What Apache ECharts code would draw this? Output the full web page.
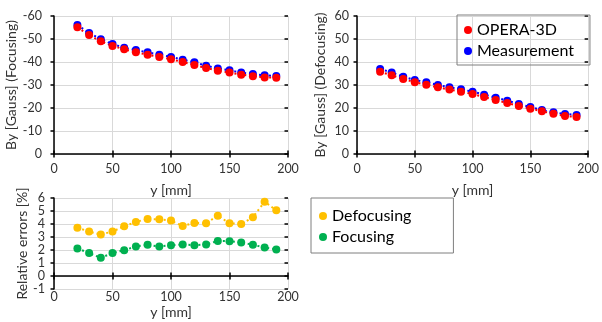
<!DOCTYPE html>
<html>
<head>
<meta charset="utf-8">
<script src="https://cdn.jsdelivr.net/npm/echarts@6/dist/echarts.min.js"></script>
<style>
html,body{margin:0;padding:0;background:#fff;}
#c{width:602px;height:322px;}
</style>
</head>
<body>
<div id="c"></div>
<script>
const yPos = [20,30,40,50,60,70,80,90,100,110,120,130,140,150,160,170,180,190];
const focMeasurement = [-56.1,-52.6,-49.9,-47.8,-46.2,-45.2,-44.2,-43.2,-42.2,-41.0,-39.9,-38.4,-37.2,-36.4,-35.4,-34.8,-34.2,-33.9];
const focOpera = [-55.1,-51.7,-49.0,-47.0,-45.5,-44.2,-43.2,-42.2,-41.2,-40.0,-38.7,-37.4,-36.2,-35.4,-34.5,-33.8,-33.3,-33.2];
const defMeasurement = [37.0,35.4,33.6,32.2,31.2,30.0,29.0,28.1,27.1,25.8,24.5,23.2,21.7,20.4,19.1,18.1,17.4,17.0];
const defOpera = [35.8,34.2,32.6,31.2,30.1,29.0,28.0,27.1,26.1,24.8,23.5,22.2,20.9,19.7,18.6,17.5,16.5,16.1];
const errDefocusing = [3.72,3.42,3.19,3.42,3.83,4.16,4.39,4.36,4.26,3.85,4.08,4.06,4.64,4.06,4.00,4.52,5.71,5.05];
const errFocusing = [2.12,1.76,1.40,1.76,1.99,2.27,2.40,2.27,2.37,2.42,2.37,2.42,2.70,2.68,2.58,2.40,2.19,2.04];

const FONT = 'Lato';
const TXT = '#333';
const GRID = '#d9d9d9';
const TICKFS = 12.5;
const NAMEFS = 14;
const pairs = a => yPos.map((x,i)=>[x,a[i]]);

function xMain(grid, extra) {
  return Object.assign({
    type:'value', gridIndex:grid, min:0, max:200, interval:50, position:'bottom',
    axisLine:{show:true, onZero:false, lineStyle:{color:'#000', width:1.5}},
    axisTick:{show:true, length:3.5, lineStyle:{color:'#000', width:1.5}},
    axisLabel:{color:TXT, fontFamily:FONT, fontSize:TICKFS, margin:8},
    splitLine:{show:true, lineStyle:{color:GRID, width:1}},
    name:'y [mm]', nameLocation:'middle', nameGap:29,
    nameTextStyle:{color:TXT, fontFamily:FONT, fontSize:NAMEFS}
  }, extra||{});
}
function xInside(grid, onZero) {
  return {
    type:'value', gridIndex:grid, min:0, max:200, interval:50, position:'bottom',
    axisLine:{show:false, onZero:onZero},
    axisTick:{show:true, inside:true, length:3.5, lineStyle:{color:'#000', width:1.5}},
    axisLabel:{show:false}, splitLine:{show:false}
  };
}
function yMain(grid, min, max, interval, name, gap, margin, inverse) {
  return {
    type:'value', gridIndex:grid, min:min, max:max, interval:interval, inverse:!!inverse,
    axisLine:{show:true, onZero:false, lineStyle:{color:'#000', width:1.5}},
    axisTick:{show:true, length:3.5, lineStyle:{color:'#000', width:1.5}},
    axisLabel:{color:TXT, fontFamily:FONT, fontSize:TICKFS, margin:margin},
    splitLine:{show:true, lineStyle:{color:GRID, width:1}},
    name:name, nameLocation:'middle', nameGap:gap,
    nameTextStyle:{color:TXT, fontFamily:FONT, fontSize:NAMEFS}
  };
}
function yInside(grid, min, max, interval, inverse) {
  return {
    type:'value', gridIndex:grid, min:min, max:max, interval:interval, inverse:!!inverse,
    axisLine:{show:false, onZero:false},
    axisTick:{show:true, inside:true, length:3.5, lineStyle:{color:'#000', width:1.5}},
    axisLabel:{show:false}, splitLine:{show:false}
  };
}
function ser(name, data, color, xi, yi) {
  return {
    type:'line', name:name, data:pairs(data), xAxisIndex:xi, yAxisIndex:yi,
    symbol:'circle', symbolSize:8, showSymbol:true,
    itemStyle:{color:color}, lineStyle:{color:color, width:2, type:[2,3]},
    emphasis:{disabled:true}, animation:false
  };
}

const chart = echarts.init(document.getElementById('c'), null, {renderer:'canvas'});
chart.setOption({
  animation:false,
  backgroundColor:'#fff',
  grid:[
    {left:54, top:16, width:234, height:138},
    {left:357, top:16, width:235, height:138},
    {left:54, top:198, width:234, height:91}
  ],
  xAxis:[
    xMain(0),                 // 0
    xInside(0,false),         // 1
    xMain(1),                 // 2
    xInside(1,false),         // 3
    xMain(2, {axisLine:{show:false,onZero:false}, axisTick:{show:false}, axisLabel:{color:TXT,fontFamily:FONT,fontSize:TICKFS,margin:1}, nameGap:16}), // 4
    {type:'value', gridIndex:2, min:0, max:200, interval:50, position:'bottom',
     axisLine:{show:true, onZero:true, lineStyle:{color:'#000', width:1.5}},
     axisTick:{show:true, length:3.5, lineStyle:{color:'#000', width:1.5}},
     axisLabel:{show:false}, splitLine:{show:false}}, // 5
    xInside(2,true)           // 6
  ],
  yAxis:[
    yMain(0,-60,0,10,'By [Gauss] (Focusing)',28,12,true),  // 0
    yInside(0,-60,0,10,true),                             // 1
    yMain(1,0,60,10,'By [Gauss] (Defocusing)',30,8),      // 2
    yInside(1,0,60,10),                                   // 3
    yMain(2,-1,6,1,'Relative errors [%]',24,9),           // 4
    yInside(2,-1,6,1)                                     // 5
  ],
  legend:[
    {data:['OPERA-3D','Measurement'], orient:'vertical', left:457, top:15,
     icon:'circle', itemWidth:8, itemHeight:8, itemGap:3,
     padding:[6,16,5,7], borderColor:'#7f7f7f', borderWidth:1,
     textStyle:{fontFamily:FONT, fontSize:16, color:'#000', lineHeight:18},
     selectedMode:false},
    {data:['Defocusing','Focusing'], orient:'vertical', left:311, top:198,
     icon:'circle', itemWidth:8, itemHeight:8, itemGap:3,
     padding:[9,42,7,8], borderColor:'#7f7f7f', borderWidth:1,
     textStyle:{fontFamily:FONT, fontSize:16, color:'#000', lineHeight:18},
     selectedMode:false}
  ],
  series:[
    ser('Measurement', focMeasurement, '#0000ff', 0, 0),
    ser('OPERA-3D', focOpera, '#ff0000', 0, 0),
    ser('Measurement', defMeasurement, '#0000ff', 2, 2),
    ser('OPERA-3D', defOpera, '#ff0000', 2, 2),
    ser('Defocusing', errDefocusing, '#ffc000', 4, 4),
    ser('Focusing', errFocusing, '#00b050', 4, 4)
  ]
});
</script>
</body>
</html>
